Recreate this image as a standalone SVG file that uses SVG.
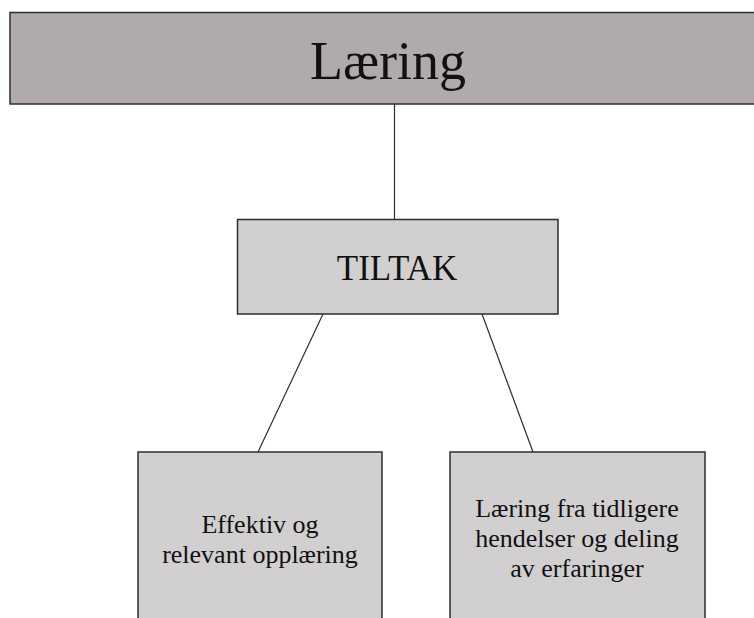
<svg xmlns="http://www.w3.org/2000/svg" width="754" height="618" viewBox="0 0 754 618">
  <style>
    .box { stroke: #2e2e2e; stroke-width: 1.5; }
    .top { fill: #b0abaa; }
    .sub { fill: #d1cfd0; }
    .edge { stroke: #2e2e2e; stroke-width: 1.2; fill: none; }
    text { font-family: "Liberation Serif", "Times New Roman", serif; fill: #111; text-anchor: middle; }
  </style>
  <rect width="754" height="618" fill="#ffffff"/>
  <g id="connectors">
    <line class="edge" x1="394.5" y1="104" x2="394.5" y2="219"/>
    <line class="edge" x1="323" y1="314" x2="258" y2="452"/>
    <line class="edge" x1="482" y1="314" x2="533" y2="452"/>
  </g>
  <g id="laering">
    <rect class="box top" x="10" y="12.5" width="760" height="91.5"/>
    <text x="388" y="79" font-size="54">Læring</text>
  </g>
  <g id="tiltak">
    <rect class="box sub" x="237.5" y="219.5" width="320.5" height="94.5"/>
    <text x="397" y="280" font-size="35">TILTAK</text>
  </g>
  <g id="opplaering">
    <rect class="box sub" x="138" y="452" width="244" height="180"/>
    <text x="260" y="533" font-size="26">Effektiv og</text>
    <text x="260" y="563" font-size="26">relevant opplæring</text>
  </g>
  <g id="erfaringer">
    <rect class="box sub" x="450" y="452" width="255" height="180"/>
    <text x="577" y="517" font-size="26">Læring fra tidligere</text>
    <text x="577" y="547" font-size="26">hendelser og deling</text>
    <text x="577" y="577" font-size="26">av erfaringer</text>
  </g>
</svg>
